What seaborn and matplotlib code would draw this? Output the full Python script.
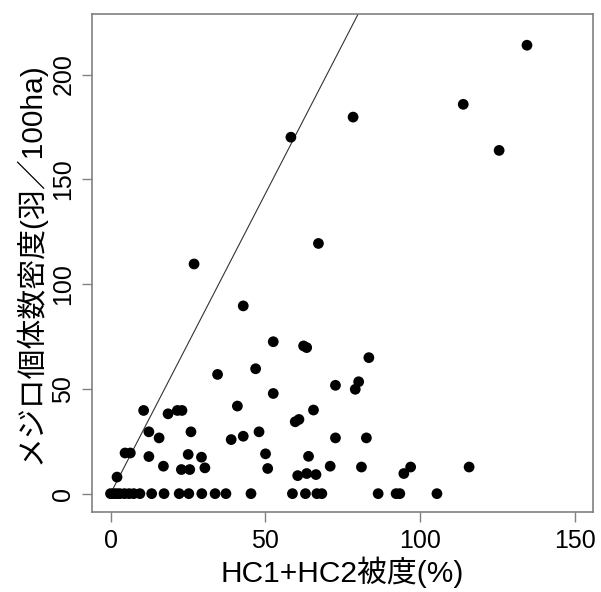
import numpy as np
import pandas as pd
import matplotlib
matplotlib.use("Agg")
import matplotlib.pyplot as plt
import seaborn as sns

# HC1+HC2 cover (%) and Mejiro density (birds / 100ha)
cover = [0, 1, 2, 3, 4.5, 6, 7.5, 9.5, 13.3, 17.3, 22.2, 25.3, 29.5, 33.8, 37.3,
         45.4, 58.8, 63.0, 66.7, 68.3, 86.5, 92.3, 93.5, 105.5,
         2.1, 4.7, 6.4, 10.7, 12.4, 12.4, 15.7, 17.1, 18.6, 21.6, 23.1, 22.9,
         25.6, 25.1, 26.0, 27.0, 29.4, 30.5, 34.6, 39.0, 41.0, 42.9, 42.9,
         46.9, 48.0, 50.1, 50.8, 52.6, 52.6, 58.3, 59.7, 60.9, 60.5, 63.4,
         66.4, 62.4, 63.4, 64.0, 65.6, 67.2, 71.0, 72.7, 72.7, 78.4, 79.1,
         80.2, 81.1, 82.7, 83.5, 94.8, 97.0, 114.0, 115.9, 125.6, 134.6]
density = [0, 0, 0, 0, 0, 0, 0, 0, 0, 0, 0, 0, 0, 0, 0,
           0, 0, 0, 0, 0, 0, 0, 0, 0,
           7.9, 19.4, 19.4, 39.7, 29.5, 17.7, 26.6, 13.1, 38.1, 39.7, 39.7, 11.5,
           11.5, 18.7, 29.5, 109.6, 17.4, 12.3, 56.9, 25.8, 41.8, 27.4, 89.6,
           59.6, 29.5, 19.0, 12.0, 47.8, 72.5, 170.1, 34.3, 35.4, 8.6, 9.6,
           9.1, 70.5, 69.7, 17.8, 39.9, 119.4, 13.1, 51.7, 26.6, 179.7, 49.8,
           53.4, 12.7, 26.6, 64.9, 9.6, 12.7, 185.8, 12.7, 163.8, 214.0]

line_slope = 2.86
line_x = [0, 85]

x_ticks = [0, 50, 100, 150]
y_ticks = [0, 50, 100, 150, 200]

df = pd.DataFrame({"cover": cover, "density": density})

sns.set_style("white")
plt.rcParams["font.family"] = ["Liberation Sans", "Noto Sans CJK JP"]
plt.rcParams["text.color"] = "black"
plt.rcParams["axes.labelcolor"] = "black"

fig, ax = plt.subplots(figsize=(6.01, 5.92), dpi=100)
fig.subplots_adjust(left=0.153, right=0.987, bottom=0.135, top=0.976)

line_y = [line_slope * v for v in line_x]
ax.plot(line_x, line_y, color="#333333", lw=0.8, zorder=1)
sns.scatterplot(data=df, x="cover", y="density", color="black", s=60,
                edgecolor="none", ax=ax, zorder=2)

ax.set_xlim(-6, 156)
ax.set_ylim(-8.8, 228.8)
ax.set_xticks(x_ticks)
ax.set_yticks(y_ticks)
ax.set_xlabel("HC1+HC2被度(%)", fontsize=21.5, labelpad=3)
ax.set_ylabel("メジロ個体数密度(羽／100ha)", fontsize=21.5, labelpad=4)
ax.tick_params(axis="both", labelsize=18, length=7, width=1, color="#808080",
               labelcolor="black", direction="out", pad=5,
               bottom=True, left=True)
for lab in ax.get_yticklabels():
    lab.set_rotation(90)
    lab.set_va("center")
for sp in ax.spines.values():
    sp.set_color("#808080")
    sp.set_linewidth(1.2)

fig.savefig("out.png", dpi=100)
